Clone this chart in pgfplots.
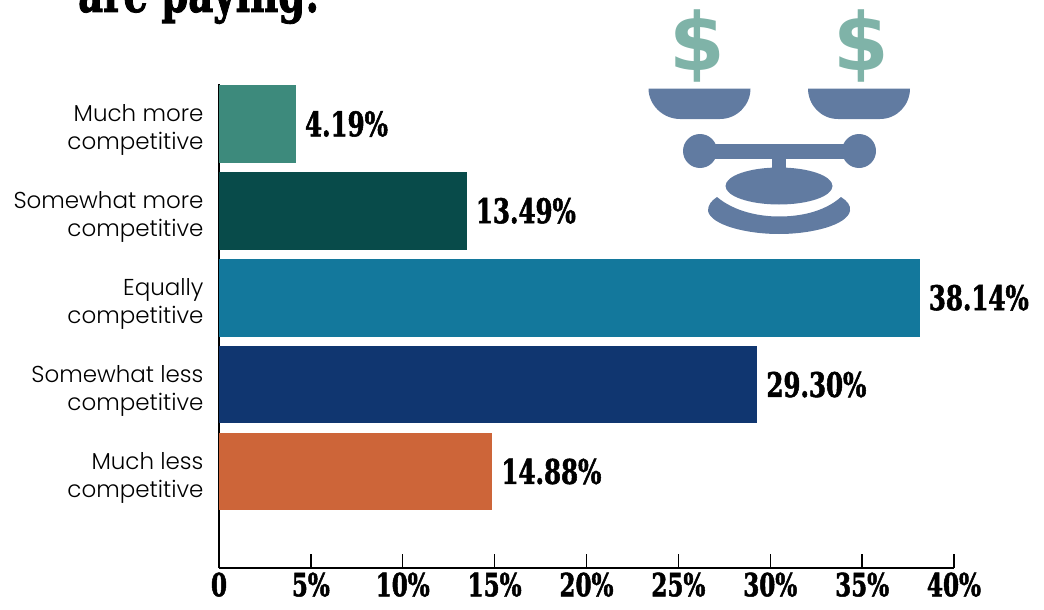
\documentclass[border=0pt]{standalone}
\usepackage{fontspec}
\usepackage{pgfplots}
\pgfplotsset{compat=1.18}
\setmainfont{Poppins Light}
\newfontfamily\slab[FakeStretch=0.72,FakeBold=1.5]{DejaVu Serif Bold}
\newfontfamily\dollarfont{DejaVu Sans Bold}
\definecolor{cA}{HTML}{3D8A7C}
\definecolor{cB}{HTML}{084B4A}
\definecolor{cC}{HTML}{13789C}
\definecolor{cD}{HTML}{103670}
\definecolor{cE}{HTML}{CD6539}
\definecolor{icon}{HTML}{617BA1}
\definecolor{dollar}{HTML}{7FB3A8}
\begin{document}
\begin{tikzpicture}[x=1pt,y=-1pt]
\useasboundingbox (0,0) rectangle (1044,610);
\node[anchor=base west,inner sep=0pt,font=\slab\fontsize{53.5}{53.5}\selectfont] at (78,12) {are paying:};
\begin{axis}[
  at={(219pt,-568pt)},anchor=south west,
  scale only axis,width=735pt,height=484pt,
  xmin=0,xmax=40,ymin=-1.1105,ymax=4.459,
  axis lines=left,axis line style={-,line width=1.5pt,black},
  xtick={0,5,...,40},
  xticklabels={0,5\%,10\%,15\%,20\%,25\%,30\%,35\%,40\%},
  xticklabel style={font=\slab\fontsize{32}{32}\selectfont,yshift=-1pt},
  major tick length=14pt,
  xtick style={line width=1.3pt,black},
  tick align=inside,
  ytick={0,1,2,3,4},
  ytick style={draw=none},
  yticklabels={Much less\\competitive,Somewhat less\\competitive,Equally\\competitive,Somewhat more\\competitive,Much more\\competitive},
  yticklabel style={font=\fontsize{23}{28}\selectfont,align=right,xshift=2pt,yshift=-6pt},
  clip=false,
  point meta=x,
  nodes near coords={\slab\pgfmathprintnumber[fixed,zerofill,precision=2,assume math mode=true]{\pgfplotspointmeta}\%},
  nodes near coords align={anchor=west},
  every node near coord/.append style={font=\fontsize{34}{34}\selectfont,black,xshift=5.5pt},
  xbar,bar width=77.7pt,bar shift=0pt,
]
\addplot[draw=none,fill=cA] coordinates {(4.19,4)};
\addplot[draw=none,fill=cB] coordinates {(13.49,3)};
\addplot[draw=none,fill=cC] coordinates {(38.14,2)};
\addplot[draw=none,fill=cD] coordinates {(29.30,1)};
\addplot[draw=none,fill=cE] coordinates {(14.88,0)};
\end{axis}
% icon
\fill[icon] (648.5,88.5) -- (750.5,88.5) .. controls (750.5,105) and (737,119) .. (720,119) -- (680,119) .. controls (663,119) and (648.5,105) .. (648.5,88.5) -- cycle;
\fill[icon] (808,88.5) -- (910,88.5) .. controls (910,105) and (897,119) .. (880,119) -- (838,119) .. controls (821,119) and (808,105) .. (808,88.5) -- cycle;
\fill[icon] (700,151) circle (17);
\fill[icon] (859,151) circle (17);
\fill[icon] (700,144) rectangle (859,159);
\fill[icon] (772,159) rectangle (786,172);
\fill[icon] (779,186) ellipse [x radius=53.5,y radius=18.5];
\fill[icon] (717,197) .. controls (735,212) and (760,216.5) .. (779,216.5) .. controls (800,216.5) and (824,212) .. (841,197) .. controls (847,201) and (851,205) .. (850,211) .. controls (847,225) and (812,234) .. (779,234) .. controls (746,234) and (711,225) .. (708,211) .. controls (708,205) and (711,201) .. (717,197) -- cycle;
\node[text=dollar,inner sep=0pt,font=\dollarfont\fontsize{80}{80}\selectfont] at (697,46) {\$};
\node[text=dollar,inner sep=0pt,font=\dollarfont\fontsize{80}{80}\selectfont] at (861,46) {\$};
\end{tikzpicture}
\end{document}
